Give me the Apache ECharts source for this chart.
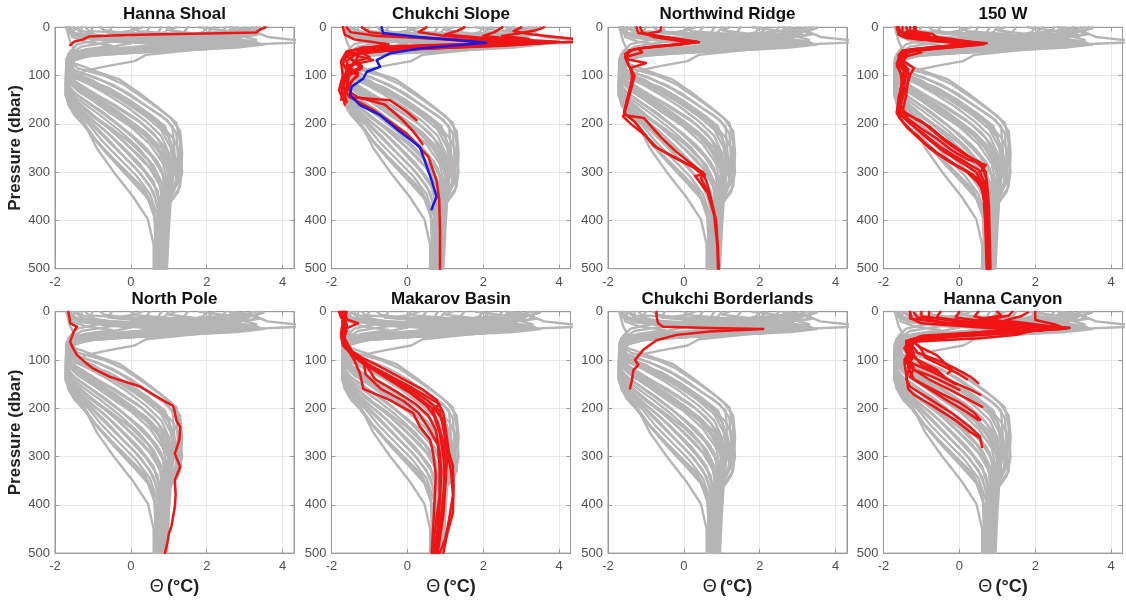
<!DOCTYPE html>
<html><head><meta charset="utf-8">
<script src="https://cdn.jsdelivr.net/npm/echarts@6/dist/echarts.min.js"></script>
<style>html,body{margin:0;padding:0;background:#fff}#c{width:1126px;height:604px}</style>
</head><body><div id="c"></div>
<script>
// ---------- data (theta °C, pressure dbar) ----------
const panelTitles = ['Hanna Shoal','Chukchi Slope','Northwind Ridge','150 W','North Pole','Makarov Basin','Chukchi Borderlands','Hanna Canyon'];
const xTicks = [-2, 0, 2, 4];
const yTicks = [0, 100, 200, 300, 400, 500];

// background (gray) profiles: upper part and deep part, joined by index
const grayUpper = [
 [[3.4,0],[3.3,10],[3.6,20],[4.3,26],[5.5,28],[5.5,31],[3.0,36],[1.0,44],[-0.8,52],[-1.5,62],[-1.5,75]],
 [[3.5,2],[3.2,8],[3.0,15],[2.8,24],[3.2,32],[2.6,40],[0.6,50],[-1.0,58],[-1.6,70]],
 [[-1.6,0],[-1.5,12],[-0.5,20],[1.5,27],[3.3,33],[2.5,40],[0.4,57],[0.1,70],[-0.6,80],[-1.2,90]],
 [[2.0,0],[1.9,10],[1.5,18],[2.2,28],[2.8,35],[1.2,45],[-0.6,52],[-1.4,60],[-1.6,75]],
 [[-1.4,0],[-1.3,15],[0.2,24],[2.2,30],[3.0,36],[1.5,44],[-0.5,50],[-1.3,58],[-1.6,70]],
 [[-1.7,0],[-1.65,15],[-1.6,30],[-1.5,45],[-1.65,60],[-1.7,80]],
 [[0.5,0],[0.4,10],[0.0,18],[1.0,25],[2.0,33],[0.5,42],[-1.2,50],[-1.6,60]],
 [[3.0,0],[2.8,12],[1.5,20],[0.0,28],[0.8,36],[-0.5,45],[-1.4,55],[-1.6,70]],
 [[-1.0,0],[-1.1,12],[-0.6,20],[0.6,28],[1.8,36],[0.6,44],[-0.8,52],[-1.5,62]],
 [[1.5,0],[1.4,10],[0.5,20],[2.5,30],[2.9,38],[2.0,45],[0.2,52],[-1.2,60],[-1.6,72]],
 [[-1.6,0],[-1.55,20],[-1.2,30],[-0.5,38],[-1.2,46],[-1.65,55],[-1.7,75]],
 [[2.5,0],[2.4,10],[2.0,16],[1.0,22],[-0.5,30],[-1.3,40],[-1.6,55],[-1.65,70]],
 [[-1.3,0],[-1.3,15],[-0.8,22],[1.2,32],[2.3,38],[1.0,46],[-0.8,55],[-1.5,65]],
 [[0.8,0],[0.7,14],[1.8,22],[3.0,30],[3.5,36],[2.8,42],[0.8,50],[-1.1,56],[-1.6,66]],
 [[-1.5,0],[-1.5,15],[-1.0,25],[0.0,33],[-0.6,42],[-1.4,50],[-1.6,65]],
 [[3.2,0],[3.0,8],[2.5,15],[1.5,22],[2.5,30],[3.0,38],[1.6,46],[-0.2,53],[-1.3,60],[-1.6,72]],
 [[-1.7,0],[-1.6,10],[-1.0,20],[1.0,28],[2.8,34],[2.2,40],[0.2,48],[-1.3,56],[-1.6,68]],
 [[2.2,0],[2.0,12],[1.2,20],[0.2,26],[1.5,34],[0.5,42],[-1.0,50],[-1.55,60]],
 [[-0.5,0],[-0.6,12],[0.8,22],[2.6,30],[3.2,36],[2.0,43],[0.0,50],[-1.3,58],[-1.6,70]],
 [[3.4,0],[3.3,6],[2.8,12],[1.0,18],[-0.8,25],[-1.4,35],[-1.6,50],[-1.7,65]],
 [[-1.65,0],[-1.6,12],[-1.3,22],[-0.2,30],[1.0,37],[0.0,44],[-1.2,52],[-1.65,62]],
 [[1.0,0],[0.9,10],[0.6,18],[1.8,26],[3.0,33],[2.4,40],[0.8,47],[-0.6,54],[-1.4,62],[-1.6,75]],
 [[3.5,0],[3.4,4],[3.2,8],[3.4,14],[3.0,20],[3.3,26],[3.0,32],[2.2,40],[0.5,48],[-1.0,55],[-1.6,65]],
 [[2.8,0],[2.6,6],[2.9,12],[3.1,18],[2.4,24],[2.9,31],[2.5,38],[1.4,44],[-0.2,50],[-1.4,58],[-1.65,70]],
 [[-1.2,0],[-1.1,8],[0.6,14],[2.0,20],[2.8,27],[3.3,33],[2.9,40],[1.0,48],[-0.8,55],[-1.55,66]],
 [[0.0,0],[0.2,8],[1.2,14],[2.4,20],[3.0,28],[2.7,36],[1.8,43],[0.0,50],[-1.4,58],[-1.7,72]],
 [[1.8,0],[2.4,6],[3.0,12],[2.6,18],[1.8,24],[2.2,32],[1.4,40],[-0.2,47],[-1.3,55],[-1.6,68]],
 [[-1.7,0],[-1.65,8],[-1.5,16],[-0.8,24],[0.4,30],[1.8,36],[1.2,42],[-0.4,48],[-1.5,56],[-1.7,70]],
 [[3.3,0],[3.0,5],[2.2,10],[1.5,16],[2.8,24],[3.3,30],[3.4,34],[2.0,42],[0.0,49],[-1.3,56],[-1.6,66]],
 [[-0.8,0],[-0.7,6],[-0.2,12],[1.0,18],[2.0,25],[2.6,32],[2.2,39],[0.8,46],[-0.9,53],[-1.6,62]],
 [[1.2,0],[1.0,6],[1.6,12],[2.2,18],[1.6,26],[0.8,33],[1.5,38],[0.4,45],[-1.0,52],[-1.6,62]],
 [[2.6,0],[3.0,4],[3.3,10],[3.2,16],[2.0,22],[0.8,28],[2.2,35],[1.6,42],[0.0,48],[-1.2,55],[-1.65,68]],
 [[-1.5,0],[-1.4,6],[-1.0,12],[-1.2,18],[-0.4,26],[0.8,34],[0.2,40],[-1.0,47],[-1.6,55],[-1.7,68]],
 [[0.3,0],[0.1,6],[-0.4,12],[0.5,20],[1.8,28],[2.6,35],[1.4,44],[-0.4,51],[-1.5,58],[-1.65,72]]
];
const grayDeep = [
 [[-1.3,80],[-0.9,92],[-0.3,108],[0.2,135],[0.7,165],[1.05,188],[1.3,215],[1.35,260],[1.3,330],[1.05,358],[1.0,420],[0.95,500]],
 [[-1.4,85],[-0.7,100],[-0.2,118],[0.4,150],[0.9,178],[1.2,198],[1.3,240],[1.25,320],[1.0,355],[0.95,430],[0.9,500]],
 [[-1.7,122],[-1.5,142],[-1.2,160],[-0.8,183],[-0.3,214],[0.2,250],[0.6,287],[0.85,328],[0.85,370],[0.8,450],[0.75,500]],
 [[-1.5,90],[-0.9,105],[-0.3,128],[0.3,158],[0.8,183],[1.1,205],[1.15,260],[1.2,320],[1.0,350],[0.9,420],[0.9,500]],
 [[-1.5,95],[-1.0,110],[-0.5,135],[0.1,163],[0.6,190],[0.95,215],[1.1,250],[1.15,300],[1.0,340],[0.9,400],[0.85,500]],
 [[-1.6,100],[-1.1,118],[-0.6,140],[-0.1,165],[0.4,195],[0.8,225],[1.0,260],[1.1,310],[1.0,345],[0.9,420],[0.85,500]],
 [[-1.6,105],[-1.2,125],[-0.7,150],[-0.2,175],[0.3,200],[0.7,230],[0.95,265],[1.05,300],[0.95,345],[0.85,420],[0.8,500]],
 [[-1.65,110],[-1.3,128],[-0.9,148],[-0.4,172],[0.1,200],[0.6,236],[0.9,272],[1.0,310],[0.9,350],[0.85,430],[0.8,500]],
 [[-1.65,112],[-1.4,132],[-1.0,152],[-0.5,180],[0.0,206],[0.5,242],[0.85,282],[0.95,320],[0.9,360],[0.8,440],[0.8,500]],
 [[-1.7,118],[-1.45,138],[-1.1,157],[-0.7,180],[-0.2,210],[0.3,242],[0.7,278],[0.9,318],[0.85,370],[0.8,440],[0.75,500]],
 [[-1.7,126],[-1.52,146],[-1.25,165],[-0.9,188],[-0.45,218],[0.05,255],[0.5,292],[0.8,332],[0.8,380],[0.75,450],[0.75,500]],
 [[-1.7,130],[-1.55,150],[-1.32,170],[-1.0,193],[-0.55,224],[-0.1,260],[0.35,298],[0.7,338],[0.8,380],[0.75,450],[0.7,500]],
 [[-1.7,134],[-1.58,155],[-1.38,175],[-1.05,197],[-0.65,228],[-0.2,266],[0.25,302],[0.6,342],[0.75,390],[0.7,450],[0.7,500]],
 [[-1.72,138],[-1.6,158],[-1.42,178],[-1.12,200],[-0.75,236],[-0.3,272],[0.15,308],[0.5,345],[0.7,390],[0.7,460],[0.68,500]],
 [[-1.72,142],[-1.62,160],[-1.45,180],[-1.18,205],[-0.85,242],[-0.4,282],[0.05,320],[0.45,355],[0.65,400],[0.65,460],[0.65,500]],
 [[-1.7,120],[-1.6,150],[-1.47,175],[-1.22,200],[-0.9,250],[-0.45,300],[0.05,350],[0.45,398],[0.6,450],[0.6,500]],
 [[-1.55,100],[-1.0,115],[-0.4,138],[0.2,168],[0.7,198],[1.0,228],[1.2,275],[1.25,320],[1.05,350],[0.95,420],[0.9,500]],
 [[-1.65,108],[-1.25,128],[-0.8,150],[-0.3,178],[0.2,208],[0.65,245],[0.95,290],[1.05,325],[0.95,360],[0.88,440],[0.85,500]],
 [[-1.7,115],[-1.5,135],[-1.15,155],[-0.75,175],[-0.35,200],[0.1,232],[0.55,268],[0.85,305],[0.9,350],[0.82,430],[0.78,500]],
 [[-1.72,128],[-1.6,148],[-1.4,168],[-1.1,188],[-0.7,212],[-0.25,245],[0.2,280],[0.6,320],[0.75,365],[0.72,440],[0.72,500]],
 [[-1.72,135],[-1.65,160],[-1.5,180],[-1.25,202],[-0.95,232],[-0.55,265],[-0.1,300],[0.35,335],[0.6,375],[0.68,440],[0.66,500]],
 [[-1.6,95],[-1.2,108],[-0.6,125],[-0.05,150],[0.5,180],[0.9,205],[1.05,240],[1.1,290],[1.1,330],[0.95,360],[0.9,440],[0.88,500]],
 [[-1.5,88],[-1.1,100],[-0.5,118],[0.0,140],[0.5,168],[0.95,192],[1.2,220],[1.25,280],[1.15,335],[0.98,362],[0.92,440],[0.9,500]],
 [[-1.7,110],[-1.4,130],[-0.95,150],[-0.55,172],[-0.1,196],[0.4,226],[0.8,262],[1.0,300],[0.95,345],[0.85,420],[0.8,500]],
 [[-1.65,105],[-1.35,120],[-0.9,140],[-0.4,162],[0.15,190],[0.6,220],[0.95,255],[1.1,300],[1.0,340],[0.9,410],[0.85,500]],
 [[-1.7,125],[-1.55,145],[-1.3,162],[-0.95,185],[-0.5,210],[0.0,240],[0.45,275],[0.75,312],[0.82,360],[0.78,430],[0.75,500]],
 [[-1.62,100],[-1.2,112],[-0.7,130],[-0.2,152],[0.35,182],[0.8,212],[1.05,250],[1.15,290],[1.05,335],[0.92,400],[0.88,500]],
 [[-1.72,132],[-1.6,152],[-1.4,172],[-1.15,192],[-0.8,220],[-0.35,255],[0.1,290],[0.5,328],[0.72,372],[0.7,440],[0.7,500]],
 [[-1.6,98],[-1.25,112],[-0.75,128],[-0.3,148],[0.25,175],[0.75,200],[1.1,228],[1.3,260],[1.35,300],[1.25,340],[1.02,365],[0.95,450],[0.92,500]],
 [[-1.7,118],[-1.5,136],[-1.2,152],[-0.85,172],[-0.45,195],[0.0,222],[0.45,255],[0.8,292],[0.92,335],[0.85,400],[0.8,500]],
 [[-1.68,108],[-1.4,124],[-1.05,142],[-0.6,165],[-0.1,190],[0.4,218],[0.8,250],[1.0,285],[1.05,325],[0.92,380],[0.85,450],[0.82,500]],
 [[-1.72,140],[-1.62,162],[-1.48,182],[-1.2,205],[-0.9,235],[-0.5,270],[-0.05,305],[0.4,345],[0.62,388],[0.65,450],[0.62,500]],
 [[-1.72,120],[-1.6,140],[-1.38,160],[-1.05,182],[-0.65,205],[-0.2,235],[0.3,272],[0.7,310],[0.85,355],[0.8,430],[0.76,500]],
 [[-1.66,112],[-1.3,130],[-0.85,152],[-0.35,178],[0.15,205],[0.55,235],[0.85,270],[1.0,305],[0.95,350],[0.88,420],[0.84,500]]
];

const redHannaShoal = [
 [[3.55,0],[3.4,5],[3.3,11],[2.0,13],[0.5,15],[-0.5,17],[-1.1,19],[-1.25,25],[-1.5,30],[-1.6,37]]
];
const redChukchiSlope = [
 [[3.0,0],[2.8,8],[3.3,15],[4.5,25],[5.5,29],[2.0,34],[0.0,38],[-1.2,42],[-1.5,50],[-1.3,60],[-1.4,75],[-1.6,90],[-1.7,110],[-1.65,130],[-1.55,143],[-0.9,171],[-0.02,220],[0.55,268],[0.77,317],[0.84,358],[0.86,420],[0.86,500]],
 [[3.6,0],[3.4,6],[3.0,12],[2.5,18],[3.2,24],[2.8,30],[1.0,36],[-0.8,42],[-1.5,48],[-1.6,60],[-1.4,70],[-1.5,85],[-1.6,100],[-1.7,125],[-1.5,145],[-0.46,151],[-0.02,175],[0.24,192]],
 [[1.5,0],[1.3,8],[1.0,15],[2.0,22],[3.0,30],[1.5,37],[-0.3,43],[-1.3,50],[-1.5,65],[-1.2,80],[-1.5,95],[-1.6,115],[-1.5,135],[-1.3,145],[-0.6,160],[-0.15,190],[0.15,215],[0.4,242]],
 [[-1.6,0],[-1.5,10],[-0.8,18],[1.5,26],[3.5,32],[2.5,38],[0.5,44],[-1.0,50],[-1.6,58],[-1.7,75],[-1.55,95],[-1.75,120],[-1.7,145],[-1.65,160]],
 [[0.5,0],[0.3,10],[1.0,18],[2.5,26],[3.8,32],[2.0,38],[0.0,45],[-1.2,52],[-1.0,62],[-1.4,72],[-1.2,85],[-1.55,100],[-1.6,125],[-1.75,150]],
 [[-1.2,0],[-1.0,10],[0.0,20],[1.5,28],[2.5,34],[1.0,42],[-0.6,48],[-1.5,55],[-0.9,68],[-1.6,80],[-1.3,95],[-1.45,110],[-1.65,140],[-1.6,155]],
 [[2.5,0],[2.3,10],[2.0,18],[3.0,26],[4.0,30],[3.0,36],[1.2,42],[-0.5,48],[-1.4,56],[-1.6,70],[-1.55,88],[-1.3,100],[-1.6,120],[-1.5,135]],
 [[-1.7,0],[-1.65,15],[-1.4,25],[-0.5,35],[-1.0,42],[-1.6,50],[-1.75,70],[-1.7,100],[-1.8,130],[-1.7,150]]
];
const blueChukchiSlope = [
 [[-0.68,0],[-0.64,12],[0.3,20],[1.2,26],[2.08,32],[0.33,44],[-0.46,54],[-0.81,68],[-0.72,82],[-1.07,92],[-1.16,106],[-1.47,123],[-1.51,140],[-1.25,161],[-0.72,182],[-0.2,216],[0.33,248],[0.64,317],[0.77,351],[0.68,368],[0.64,377]]
];
const redNorthwindRidge = [
 [[-1.25,0],[-1.2,12],[-0.5,20],[0.35,30],[-0.1,36],[-1.0,42],[-1.45,48],[-1.5,66],[-1.0,74],[-1.4,84],[-1.35,110],[-1.45,140],[-1.55,168],[-1.55,182],[-1.05,188],[-0.92,200],[-0.6,228],[-0.2,258],[0.35,292],[0.55,305],[0.45,312],[0.62,340],[0.8,390],[0.88,450],[0.9,500]],
 [[-0.6,0],[-0.62,8],[-1.0,14],[-0.2,24],[0.4,31],[-0.5,38],[-1.2,44],[-1.1,52],[-1.55,62],[-1.45,80],[-1.3,100],[-1.4,130],[-1.5,160],[-1.6,185],[-1.4,200],[-1.0,225],[-0.8,245],[-0.3,268],[0.25,290],[0.5,305],[0.3,308],[0.6,340]],
 [[-1.15,0],[-1.1,10],[-0.8,20],[0.2,32],[-0.8,40],[-1.3,45],[-1.55,55],[-1.5,70],[-1.35,95],[-1.4,120],[-1.5,150],[-1.58,178],[-1.3,195],[-0.95,230],[-0.7,250],[-0.1,275],[0.5,300],[0.6,320],[0.7,350],[0.85,400],[0.9,460],[0.92,500]]
];
const red150W = [
 [[-1.6,0],[-1.55,10],[-1.0,18],[-0.3,26],[0.72,33],[0.0,38],[-1.0,45],[-1.5,55],[-1.6,70],[-1.4,90],[-1.45,110],[-1.5,140],[-1.55,165],[-1.4,180],[-1.0,195],[-0.7,215],[-0.3,240],[0.1,262],[0.55,280],[0.7,300],[0.7,330],[0.75,400],[0.8,500]],
 [[-1.2,0],[-1.2,8],[-0.7,14],[-0.6,20],[0.1,28],[0.6,34],[-0.2,40],[-1.2,48],[-1.6,60],[-1.5,80],[-1.3,100],[-1.4,125],[-1.6,160],[-1.55,180],[-1.3,200],[-0.95,220],[-0.5,248],[0.0,272],[0.5,295],[0.65,320],[0.7,380],[0.75,450],[0.78,500]],
 [[-1.65,0],[-1.6,15],[-1.2,24],[-0.2,30],[0.4,34],[-0.4,40],[-1.3,46],[-1.0,52],[-1.5,62],[-1.65,80],[-1.5,100],[-1.55,130],[-1.6,170],[-1.5,185],[-1.2,205],[-0.85,230],[-0.4,258],[0.05,280],[0.45,300],[0.62,330],[0.68,400],[0.72,500]],
 [[-1.4,0],[-1.35,10],[-0.8,16],[-1.0,22],[0.0,30],[0.3,34],[-0.6,42],[-1.4,50],[-1.55,65],[-1.2,85],[-1.35,105],[-1.4,140],[-1.5,175],[-1.35,190],[-1.0,210],[-0.6,230],[-0.2,255],[0.25,275],[0.7,285],[0.55,300],[0.7,340],[0.72,420],[0.8,500]],
 [[-1.5,0],[-1.5,12],[-1.1,20],[0.2,30],[0.65,35],[-0.1,41],[-1.1,47],[-1.55,56],[-1.65,75],[-1.55,95],[-1.5,120],[-1.55,150],[-1.65,175],[-1.5,195],[-1.25,215],[-0.9,240],[-0.55,262],[-0.1,285],[0.35,305],[0.6,335],[0.7,380],[0.74,450],[0.76,500]],
 [[-1.3,0],[-1.3,12],[-0.9,18],[-0.4,26],[0.3,32],[-0.3,38],[-1.2,45],[-1.5,52],[-1.4,62],[-1.6,78],[-1.4,95],[-1.45,118],[-1.6,150],[-1.6,185],[-1.4,205],[-1.1,225],[-0.8,250],[-0.3,275],[0.2,300],[0.55,325],[0.68,360],[0.72,430],[0.8,500]],
 [[-1.6,0],[-1.6,15],[-1.4,22],[-0.5,30],[0.5,36],[-0.3,42],[-1.3,50],[-1.6,65],[-1.45,85],[-1.5,105],[-1.45,135],[-1.55,160],[-1.45,175],[-1.15,190],[-0.8,205],[-0.5,225],[-0.1,248],[0.3,270],[0.6,290],[0.72,315],[0.78,370],[0.8,440],[0.82,500]],
 [[-1.15,0],[-1.15,6],[-1.5,12],[-1.2,20],[0.0,28],[0.5,33],[-0.5,40],[-1.5,48],[-1.6,58],[-1.5,72],[-1.35,88],[-1.5,115],[-1.6,145],[-1.65,178],[-1.55,190],[-1.35,210],[-1.0,235],[-0.65,258],[-0.2,282],[0.25,300],[0.55,318],[0.65,345],[0.7,420],[0.75,500]]
];
const redNorthPole = [
 [[-1.65,0],[-1.62,12],[-1.6,24],[-1.42,31],[-1.5,40],[-1.55,51],[-1.6,62],[-1.55,72],[-1.42,90],[-1.2,105],[-0.99,118],[-0.55,135],[0.24,155],[0.68,176],[1.11,195],[1.15,205],[1.2,225],[1.3,239],[1.28,265],[1.16,294],[1.3,321],[1.16,348],[1.18,380],[1.16,403],[1.07,444],[1.0,460],[0.98,472],[0.9,500]]
];
const redMakarovBasin = [
 [[-1.65,0],[-1.6,15],[-1.7,35],[-1.65,60],[-1.5,80],[-1.2,95],[-0.72,114],[-0.1,140],[0.42,162],[0.77,183],[0.95,210],[1.0,238],[1.1,293],[1.2,320],[1.22,360],[1.2,417],[1.05,460],[0.95,500]],
 [[-1.8,0],[-1.75,12],[-1.3,24],[-1.6,34],[-1.75,50],[-1.7,70],[-1.45,90],[-1.1,108],[-0.6,128],[0.0,152],[0.5,175],[0.85,192],[0.7,200],[0.9,220],[1.0,260],[1.05,300],[1.0,360],[0.95,420],[0.8,500]],
 [[-1.7,0],[-1.7,20],[-1.75,45],[-1.6,75],[-1.4,100],[-1.25,128],[-1.16,160],[-0.46,183],[0.15,210],[0.33,238],[0.6,265],[0.68,293],[0.75,340],[0.7,420],[0.64,500]],
 [[-1.75,0],[-1.7,15],[-1.6,30],[-1.7,55],[-1.55,80],[-1.3,100],[-0.9,120],[-0.4,145],[0.1,170],[0.5,195],[0.7,215],[0.85,250],[0.95,300],[1.0,350],[0.9,420],[0.75,500]],
 [[-1.6,0],[-1.65,18],[-1.7,40],[-1.68,65],[-1.5,85],[-1.2,105],[-0.75,125],[-0.2,150],[0.3,178],[0.65,200],[0.8,230],[0.95,270],[1.0,310],[0.95,380],[0.85,450],[0.7,500]],
 [[-1.78,0],[-1.7,10],[-1.65,30],[-1.72,52],[-1.6,72],[-1.35,95],[-1.05,115],[-0.85,140],[-0.3,165],[0.2,190],[0.55,215],[0.75,245],[0.85,290],[0.9,330],[0.85,400],[0.8,450],[0.7,500]],
 [[-1.7,5],[-1.6,25],[-1.7,48],[-1.55,70],[-1.4,90],[-1.0,110],[-0.5,132],[0.05,158],[0.55,185],[0.85,205],[0.95,240],[1.05,290],[1.15,330],[1.2,380],[1.1,430],[1.0,470],[0.85,500]],
 [[-1.65,0],[-1.72,20],[-1.6,40],[-1.7,60],[-1.45,85],[-1.15,105],[-1.1,130],[-0.7,160],[-0.1,185],[0.3,210],[0.55,240],[0.8,275],[0.85,320],[0.85,380],[0.75,440],[0.65,500]]
];
const redChukchiBorderlands = [
 [[-0.72,0],[-0.72,10],[-0.68,24],[-0.55,31],[0.68,34],[2.09,36],[0.68,41],[-0.19,48],[-0.72,59],[-1.07,79],[-1.29,100],[-1.2,110],[-1.33,121],[-1.37,142],[-1.42,159]]
];
const redHannaCanyon = [
 [[-1.3,0],[-1.3,14],[-0.5,22],[1.5,30],[2.9,33],[2.0,38],[0.5,45],[-0.8,55],[-1.3,65],[-1.1,85],[-0.6,100],[-0.1,118],[0.3,135],[0.5,148]],
 [[2.0,0],[2.0,17],[2.5,26],[2.7,32],[1.8,40],[0.2,48],[-1.1,56],[-1.4,70],[-1.2,90],[-1.3,105],[-0.7,125],[-0.2,145],[0.3,162],[0.55,172]],
 [[-0.8,0],[-0.8,12],[0.2,22],[1.8,30],[2.4,36],[1.5,44],[-0.2,52],[-1.2,62],[-1.3,80],[-1.45,100],[-1.3,115],[-0.8,140],[-0.3,160],[0.2,180],[0.6,197]],
 [[0.5,0],[0.4,10],[1.0,20],[2.2,30],[1.0,40],[-0.5,50],[-1.3,60],[-1.35,90],[-1.2,118],[-1.3,135],[-0.8,160],[-0.3,185],[0.2,208],[0.5,224]],
 [[-1.2,2],[-1.1,12],[-0.3,24],[1.2,32],[2.0,38],[1.5,48],[0.5,55],[-1.2,62],[-1.4,80],[-1.3,110],[-1.4,140],[-1.3,155],[-0.8,180],[-0.2,210],[0.3,240],[0.55,259]],
 [[1.0,0],[1.1,8],[0.5,16],[1.5,26],[2.6,33],[1.2,42],[-0.5,52],[-1.4,60],[-1.3,80],[-1.45,105],[-1.4,130],[-1.35,160],[-1.2,172],[-0.7,195],[-0.1,225],[0.3,250],[0.55,262],[0.6,280]],
 [[-1.0,0],[-1.0,10],[0.0,20],[2.0,30],[2.8,35],[1.0,44],[-0.8,52],[-1.3,58],[-1.0,75],[-0.6,90],[-0.4,105],[-0.2,120],[-0.3,128]],
 [[1.8,2],[1.6,10],[1.2,18],[2.0,26],[2.5,32],[2.2,38],[1.0,45],[-0.4,52],[-1.2,62],[-1.0,78],[-0.9,95],[-0.5,110],[0.0,130],[0.2,140]],
 [[-1.3,0],[-1.25,15],[-1.0,24],[0.5,32],[1.5,38],[0.2,44],[-1.0,50],[-1.4,62],[-1.35,85],[-1.1,100],[-0.6,120],[-0.35,138],[-0.1,150]],
 [[0.0,0],[-0.1,12],[0.8,22],[2.5,30],[2.9,34],[1.8,40],[0.0,48],[-1.2,56],[-1.4,68],[-1.2,85],[-1.4,100],[-1.2,120],[-0.7,135],[-0.3,150],[0.0,162]],
 [[1.4,0],[1.3,8],[0.8,16],[2.0,28],[1.5,36],[0.3,44],[-1.0,52],[-1.3,65],[-1.2,90],[-1.0,110],[-0.5,128],[-0.4,136]],
 [[-0.5,0],[-0.6,12],[0.5,24],[2.3,32],[2.7,36],[1.3,42],[-0.3,50],[-1.3,58],[-1.45,75],[-1.3,95],[-1.35,115],[-1.2,140],[-0.6,165],[0.0,188],[0.4,210],[0.55,224]]
];

// ---------- chart ----------
const redSets = [redHannaShoal, redChukchiSlope, redNorthwindRidge, red150W, redNorthPole, redMakarovBasin, redChukchiBorderlands, redHannaCanyon];
const blueSets = [[], blueChukchiSlope, [], [], [], [], [], []];
const grayProfiles = grayUpper.map((u, i) => u.concat(grayDeep[i]));

const FONT = '"Liberation Sans", Arial, Helvetica, sans-serif';
const colLeft = [55, 331.5, 608, 883.5];
const rowTop = [27.3, 311.7];
const W = 239, H = 241.4;
const AX = '#9a9a9a';
const xFmt = v => (xTicks.indexOf(Math.round(v * 1000) / 1000) >= 0 ? String(v) : '');

const grid = [], xAxis = [], yAxis = [], series = [], graphic = [];
for (let i = 0; i < 8; i++) {
  const L = colLeft[i % 4], T = rowTop[Math.floor(i / 4)];
  grid.push({left: L, top: T, width: W, height: H, show: true, borderColor: AX, borderWidth: 1, backgroundColor: '#fff'});
  const xBase = {type: 'value', gridIndex: i, min: xTicks[0], max: 4.3, interval: 2};
  const yBase = {type: 'value', gridIndex: i, min: yTicks[0], max: yTicks[yTicks.length - 1], interval: 100, inverse: true};
  xAxis[i] = Object.assign({}, xBase, {
    position: 'bottom',
    axisLine: {show: true, onZero: false, lineStyle: {color: AX}},
    axisTick: {show: true, inside: true, length: 4, lineStyle: {color: AX}},
    axisLabel: {color: '#505050', fontSize: 13, fontFamily: FONT, margin: 7, formatter: xFmt},
    splitLine: {show: true, lineStyle: {color: '#e6e6e6', width: 1}}
  });
  xAxis[8 + i] = Object.assign({}, xBase, {
    position: 'top',
    axisLine: {show: true, onZero: false, lineStyle: {color: AX}},
    axisTick: {show: true, inside: true, length: 4, lineStyle: {color: AX}},
    axisLabel: {show: false}, splitLine: {show: false}
  });
  yAxis[i] = Object.assign({}, yBase, {
    position: 'left',
    axisLine: {show: true, onZero: false, lineStyle: {color: AX}},
    axisTick: {show: true, inside: true, length: 4, lineStyle: {color: AX}},
    axisLabel: {color: '#505050', fontSize: 13, fontFamily: FONT, margin: 5},
    splitLine: {show: true, lineStyle: {color: '#e6e6e6', width: 1}}
  });
  yAxis[8 + i] = Object.assign({}, yBase, {
    position: 'right',
    axisLine: {show: true, onZero: false, lineStyle: {color: AX}},
    axisTick: {show: true, inside: true, length: 4, lineStyle: {color: AX}},
    axisLabel: {show: false}, splitLine: {show: false}
  });
  const mk = (data, color, width) => ({
    type: 'line', xAxisIndex: i, yAxisIndex: i, data: data, symbol: 'none',
    lineStyle: {color: color, width: width, join: 'round', cap: 'round'}, clip: true, silent: true, animation: false
  });
  grayProfiles.forEach(p => series.push(mk(p, '#b5b5b5', 2.4)));
  redSets[i].forEach(p => series.push(mk(p, '#f01414', 2.5)));
  blueSets[i].forEach(p => series.push(mk(p, '#1a1ae6', 2.5)));

  const cx = L + W / 2;
  graphic.push({type: 'text', x: cx, y: T - 12.5, silent: true,
    style: {text: panelTitles[i], font: 'bold 17px ' + FONT, fill: '#111', align: 'center', verticalAlign: 'middle'}});
  if (i % 4 === 0) {
    graphic.push({type: 'text', x: 15, y: T + H / 2, rotation: Math.PI / 2, silent: true,
      style: {text: 'Pressure (dbar)', font: 'bold 17px ' + FONT, fill: '#222', align: 'center', verticalAlign: 'middle'}});
  }
  if (i >= 4) {
    graphic.push({type: 'text', x: cx, y: T + H + 34, silent: true,
      style: {text: '{a|Θ} {b|(°C)}', align: 'center', verticalAlign: 'middle', fill: '#222',
        rich: {a: {font: '18px ' + FONT, fill: '#222'}, b: {font: 'bold 18px ' + FONT, fill: '#222'}}}});
  }
}

const chart = echarts.init(document.getElementById('c'), null, {renderer: 'canvas'});
chart.setOption({animation: false, backgroundColor: '#fff', grid, xAxis, yAxis, series, graphic});
</script>
</body></html>
